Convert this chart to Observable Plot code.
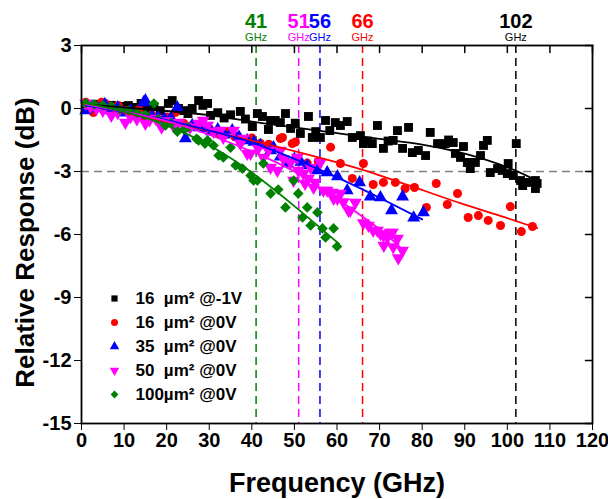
<!DOCTYPE html>
<html><head><meta charset="utf-8">
<script src="https://cdn.jsdelivr.net/npm/d3@7"></script>
<script src="https://cdn.jsdelivr.net/npm/@observablehq/plot@0.6"></script>
<style>body{margin:0;background:#fff}</style>
</head><body><div id="chart"></div>
<script>
// ---- data: [frequency GHz, relative response dB] ----
const s16m1V = [[1,0.2],[2.5,0.1],[4,0.2],[5.5,0.05],[7,0.15],[8.5,0.0],[10,0.1],[11,0.14],[12.5,0.05],[14,0.24],[15.5,-0.05],[17,0.1],[18.5,-0.1],[20.4,0.24],[21.3,0.38],[22.8,0.0],[24,-0.1],[25,-0.24],[26,0.0],[27.5,0.38],[28.5,0.15],[29.6,0.24],[30.3,-0.33],[32,-0.2],[33.5,-0.45],[35,-0.3],[37.3,-0.14],[38.5,-0.5],[40.1,-0.86],[41.3,-0.24],[42.5,-0.38],[43.9,-1.0],[44.4,-0.57],[45.5,-0.57],[46.7,-0.67],[47.9,-0.24],[49.1,-0.95],[50.2,-0.7],[51.4,-1.19],[53.3,-0.38],[54.2,-1.38],[55,-1.1],[56.1,-1.38],[57.3,-0.57],[58.3,-1.05],[59.6,-0.67],[60.8,-0.81],[62.4,-0.62],[63.6,-1.38],[65.5,-1.29],[66.2,-1.67],[67.2,-1.55],[68.3,-1.67],[69.5,-0.81],[70.9,-1.9],[72,-1.55],[73.2,-1.52],[74.2,-1.05],[75.4,-1.9],[76.8,-0.9],[77.7,-2.1],[79.1,-2.0],[80.8,-2.24],[81.9,-1.14],[83.6,-1.67],[85.4,-1.67],[86.2,-1.5],[87.3,-1.62],[87.8,-2.14],[89,-2.33],[89.7,-1.81],[90.6,-2.57],[91.3,-2.86],[92.5,-2.57],[93.7,-2.24],[94.4,-1.76],[95.3,-1.52],[96,-3.05],[97.7,-2.86],[98.8,-2.95],[100,-3.1],[100.2,-2.62],[101.4,-3.19],[102.1,-1.67],[103.1,-3.43],[103.6,-3.67],[104.9,-3.52],[106.6,-3.43],[106.6,-3.81],[107,-3.57]];
const s16_0V = [[1,0.3],[2.8,-0.19],[4.7,0.3],[5.6,0.24],[7,0.1],[8.7,0.14],[10.5,-0.1],[12,-0.15],[13.5,-0.05],[15,-0.48],[16.5,-0.3],[18,-0.5],[20,-0.4],[22,-0.19],[24,-0.7],[26,-0.8],[28,-0.9],[30,-0.95],[32,-1.2],[34,-1.1],[36,-1.35],[38,-1.5],[40,-1.4],[42,-1.65],[44,-1.7],[46.7,-1.43],[47.2,-1.38],[49.5,-1.67],[50.2,-1.6],[53,-2.6],[55.6,-2.52],[58.5,-1.84],[60.8,-2.62],[63.6,-3.33],[66.2,-2.62],[68.5,-3.62],[70.9,-3.52],[73.7,-3.52],[76,-3.81],[78.2,-3.76],[81,-4.71],[83.3,-3.57],[85.9,-4.57],[88.3,-4.05],[90.8,-5.19],[93.2,-5.1],[95.5,-5.33],[98.4,-5.57],[100.7,-4.67],[103.3,-5.86],[105.9,-5.62]];
const s35_0V = [[1,-0.1],[2.5,0.1],[4,0.0],[5.5,0.2],[7,-0.1],[8.5,0.05],[10,-0.2],[11.5,-0.1],[13,-0.3],[14.6,0.29],[15,0.38],[16.5,-0.35],[18,-0.4],[19.5,-0.5],[21,-0.45],[22.5,0.05],[24.4,-1.43],[26,-0.8],[27.5,-0.9],[29,-0.95],[30.5,-1.1],[32,-1.0],[33.5,-1.25],[35.4,-1.05],[37,-1.35],[38.9,-1.52],[40.5,-1.6],[42,-1.75],[44.4,-2.0],[45.1,-1.86],[46.7,-2.3],[48.4,-2.62],[50,-2.4],[51.5,-2.55],[53,-2.71],[55.4,-2.95],[57.7,-3.05],[60.1,-3.24],[62.4,-3.9],[65.3,-3.52],[67.8,-4.2],[70.2,-4.24],[72.8,-4.86],[75.4,-4.2],[78,-5.2],[80.3,-4.95]];
const s50_0V = [[1,0.24],[2,0.1],[3.5,0.0],[5,-0.1],[7,-0.33],[8.5,-0.2],[10.3,-0.67],[11.5,-0.4],[13,-0.5],[15,-0.71],[16,-0.55],[17.4,-0.48],[18.8,-0.9],[20,-0.6],[21.5,-0.8],[22.8,-0.67],[24.5,-0.85],[25.5,-0.9],[27.5,-0.71],[28.6,-0.57],[29.6,-0.81],[31,-1.1],[32.6,-1.05],[33.3,-1.38],[35.7,-1.05],[37.3,-1.67],[38,-1.43],[38.9,-2.14],[39.7,-2.14],[41.5,-1.9],[42.7,-2.33],[43.9,-2.0],[44.4,-2.81],[46,-2.95],[46.7,-2.0],[47.4,-2.4],[49.1,-2.57],[49.8,-3.43],[50.7,-2.33],[50.9,-2.95],[52.1,-3.1],[52.5,-3.57],[53.3,-3.33],[53.8,-2.81],[54.5,-3.76],[54.9,-3.52],[56.1,-2.57],[56.8,-3.9],[57.7,-3.9],[58.9,-4.0],[59.2,-4.29],[60.1,-4.29],[60.8,-4.05],[61.5,-4.45],[62.7,-4.86],[63.1,-4.86],[64.3,-4.48],[66.2,-5.45],[67.4,-5.57],[68.5,-5.81],[69.5,-5.81],[70.2,-5.97],[70.9,-6.05],[71,-6.52],[71.8,-6.14],[72.5,-5.9],[73,-5.9],[73.2,-6.6],[74.2,-6.19],[74.4,-7.12],[75.4,-6.76]];
const s100_0V = [[1,0.25],[3,0.2],[5,0.15],[7,0.1],[9,-0.05],[11,-0.1],[13,-0.2],[15,-0.3],[17,0.24],[18,-0.5],[19.7,-0.81],[21,-0.7],[22.5,-1.1],[24,-1.0],[25,-0.9],[27,-1.45],[27.5,-1.52],[29,-1.67],[29.6,-1.52],[31,-1.76],[32.2,-2.24],[33.3,-2.33],[35,-1.86],[36.2,-2.71],[37.8,-2.86],[39.7,-3.19],[40.4,-3.43],[41.3,-3.43],[42.7,-2.62],[44.4,-4.05],[46.2,-3.86],[47.9,-4.71],[49.8,-3.43],[50.9,-4.05],[51.9,-5.19],[53,-4.71],[53.8,-5.57],[55.4,-4.95],[56.6,-5.71],[57.3,-6.14],[59.2,-5.71],[60,-6.57]];

// fitted curves
const fit16m1V = [[1,0.2],[10,0.05],[20,-0.12],[30,-0.32],[40,-0.62],[50,-0.9],[60,-1.17],[70,-1.45],[80,-1.72],[90,-2.15],[100,-2.8],[107,-3.45]];
const fit16_0V = [[1,0.2],[10,-0.2],[20,-0.62],[30,-1.07],[40,-1.53],[50,-2.03],[60,-2.57],[70,-3.18],[80,-3.88],[90,-4.58],[100,-5.22],[107,-5.7]];
const fit35_0V = [[1,0.15],[10,-0.17],[20,-0.55],[30,-1.05],[40,-1.62],[50,-2.4],[60,-3.28],[70,-4.25],[80,-5.28]];
const fit50_0V = [[1,0.2],[10,-0.15],[20,-0.6],[30,-1.25],[40,-2.05],[50,-3.0],[60,-4.3],[70,-5.75],[75.5,-6.75]];
const fit100_0V = [[1,0.25],[10,-0.15],[20,-0.8],[30,-1.75],[40,-3.05],[50,-4.65],[60.5,-6.45]];

const seriesLabels = ["16\u00a0\u00a0\u00b5m\u00b2 @-1V", "16\u00a0\u00a0\u00b5m\u00b2 @0V", "35\u00a0\u00a0\u00b5m\u00b2 @0V", "50\u00a0\u00a0\u00b5m\u00b2 @0V", "100\u00b5m\u00b2 @0V"];
const bandwidths = [102, 66, 56, 51, 41]; // 3-dB bandwidths, GHz (same order as series)
const xTicks = [0,10,20,30,40,50,60,70,80,90,100,110,120];
const yTicks = [3,0,-3,-6,-9,-12,-15];

// ---- styles ----
const colors = ["#000000", "#ff0000", "#0000ff", "#ff00ff", "#008000"];
const triangleDown = {
  draw(ctx, size) {
    const y = -Math.sqrt(size / (Math.sqrt(3) * 3));
    ctx.moveTo(0, -y * 2);
    ctx.lineTo(-Math.sqrt(3) * y, y);
    ctx.lineTo(Math.sqrt(3) * y, y);
    ctx.closePath();
  }
};
const symbols = ["square", "circle", "triangle", triangleDown, "diamond2"];
const dotR = [5, 4.5, 4.8, 4.8, 4.8];
const series = [s16m1V, s16_0V, s35_0V, s50_0V, s100_0V];
const fits = [fit16m1V, fit16_0V, fit35_0V, fit50_0V, fit100_0V];
const font = "'Liberation Sans', Arial, Helvetica, sans-serif";
const tickLine = {draw(c, l) { c.moveTo(0, 0); c.lineTo(0, -l); }};

const marks = [];
// reference lines
marks.push(Plot.ruleY([-3], {stroke: "#808080", strokeWidth: 1.5, strokeDasharray: "8,5"}));
bandwidths.forEach((b, i) => {
  marks.push(Plot.ruleX([b], {stroke: colors[i], strokeWidth: 1.5, strokeDasharray: "8,5"}));
  marks.push(Plot.text([b], {x: d => d, frameAnchor: "top", text: d => String(d), fill: colors[i], dy: -24, fontSize: 20, fontWeight: "bold", lineAnchor: "middle", textAnchor: "middle"}));
  marks.push(Plot.text([b], {x: d => d, frameAnchor: "top", text: () => "GHz", fill: colors[i], dy: -8, fontSize: 11, fontWeight: "normal", lineAnchor: "middle", textAnchor: "middle"}));
});
// scatter
series.forEach((s, i) => {
  marks.push(Plot.dot(s, {x: d => d[0], y: d => d[1], symbol: symbols[i], fill: colors[i], stroke: "none", r: dotR[i]}));
});
// fits
fits.forEach((f, i) => {
  marks.push(Plot.line(f, {x: d => d[0], y: d => d[1], stroke: colors[i], strokeWidth: 1.8, curve: "natural"}));
});
// legend
seriesLabels.forEach((lab, i) => {
  marks.push(Plot.dot([lab], {frameAnchor: "top-left", dx: 33, dy: 253 + 24 * i, symbol: symbols[i], fill: colors[i], stroke: "none", r: 3.5}));
  marks.push(Plot.text([lab], {frameAnchor: "top-left", dx: 54, dy: 253 + 24 * i, text: d => d, textAnchor: "start", lineAnchor: "middle", fill: "black", fontSize: 17, fontWeight: "bold"}));
});
// axes
marks.push(Plot.axisX({ticks: xTicks, tickSize: 7, tickPadding: 2, fontSize: 20, fontWeight: "bold", label: null, tickFormat: d => String(d)}));
marks.push(Plot.axisY({ticks: yTicks, tickSize: 7, tickPadding: 3, fontSize: 20, fontWeight: "bold", label: null, tickFormat: d => String(d)}));
marks.push(Plot.vector(xTicks, {x: d => d, frameAnchor: "top", length: 7, rotate: 180, anchor: "start", stroke: "black", strokeWidth: 1.5, shape: tickLine}));
marks.push(Plot.vector(yTicks, {y: d => d, frameAnchor: "right", length: 7, rotate: -90, anchor: "start", stroke: "black", strokeWidth: 1.5, shape: tickLine}));
marks.push(Plot.frame({stroke: "black", strokeWidth: 1.8}));
marks.push(Plot.text(["Frequency (GHz)"], {frameAnchor: "bottom", dy: 60, text: d => d, fontSize: 27, fontWeight: "bold", textAnchor: "middle", lineAnchor: "middle"}));
marks.push(Plot.text(["Relative Response (dB)"], {frameAnchor: "left", dx: -56, dy: 8, rotate: -90, text: d => d, fontSize: 26, fontWeight: "bold", textAnchor: "middle", lineAnchor: "middle"}));

const chart = Plot.plot({
  width: 608,
  height: 499,
  marginLeft: 81,
  marginRight: 16,
  marginTop: 45,
  marginBottom: 76,
  x: {domain: [0, 120], axis: null},
  y: {domain: [-15, 3], axis: null},
  style: {fontFamily: font, background: "#fff", color: "black", overflow: "visible"},
  marks
});
document.getElementById("chart").appendChild(chart);
</script></body></html>
